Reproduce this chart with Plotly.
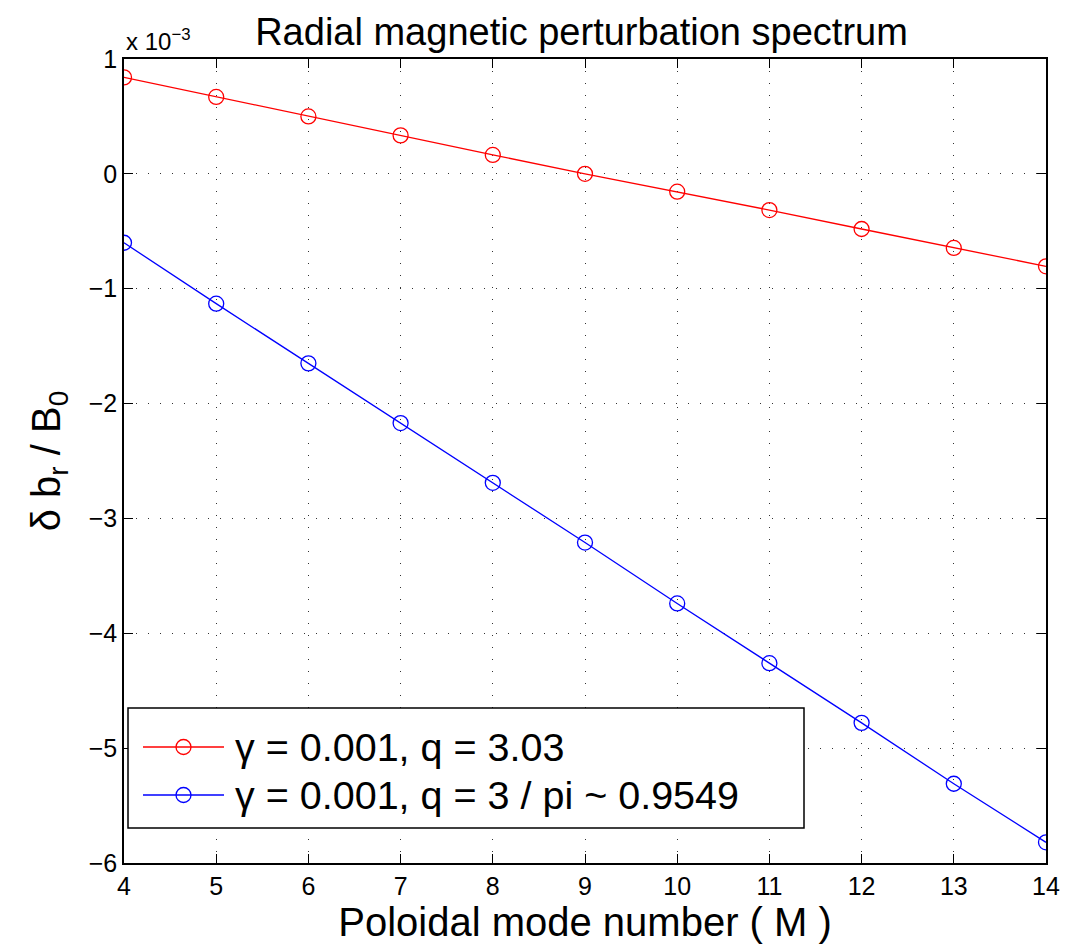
import plotly.graph_objects as go

M = [4, 5, 6, 7, 8, 9, 10, 11, 12, 13, 14]
red_vals = [0.84, 0.67, 0.50, 0.335, 0.165, 0.0, -0.155, -0.315, -0.48, -0.645, -0.805]
blue_vals = [-0.60, -1.13, -1.65, -2.17, -2.69, -3.21, -3.74, -4.26, -4.78, -5.31, -5.82]
red_name = "γ = 0.001, q = 3.03"
blue_name = "γ = 0.001, q = 3 / pi ~ 0.9549"
x_ticks = list(range(4, 15))
y_ticks = [1, 0, -1, -2, -3, -4, -5, -6]
y_ticklabels = ["1", "0", "\u22121", "\u22122", "\u22123", "\u22124", "\u22125", "\u22126"]

FONT = "Liberation Sans, Arial, Helvetica, sans-serif"
# page body has an 8px margin; compensate so the plot area lands where the reference has it
OFF = 8
W, H = 1072, 944
L, R, T, B = 124, 1046, 59, 863  # target plot-area edges on screen
PW, PH = R - L, B - T


def px(x):
    return (x - L) / PW


def py(y):
    return (B - y) / PH


fig = go.Figure()
series = [(red_vals, red_name, "#ff0000"), (blue_vals, blue_name, "#0000ff")]
for vals, name, col in series:
    fig.add_trace(go.Scatter(x=M, y=vals, mode="lines+markers", name=name, showlegend=False,
                             line=dict(color=col, width=1.3),
                             marker=dict(symbol="circle-open", size=15, color=col, line=dict(width=1.3))))

axis_common = dict(showline=True, linecolor="black", linewidth=1.5, mirror="ticks",
                   ticks="inside", ticklen=9, tickcolor="black", tickwidth=1.2,
                   showgrid=True, gridcolor="#333333", griddash="1px,11px", gridwidth=1.2,
                   zeroline=False, tickfont=dict(size=25, color="black", family=FONT))

fig.update_xaxes(range=[4, 14], tickvals=x_ticks, **axis_common,
                 title=dict(text="Poloidal mode number ( M )", font=dict(size=40, color="black", family=FONT), standoff=4))
fig.update_yaxes(range=[-6, 1], tickvals=y_ticks, ticktext=y_ticklabels, **axis_common,
                 title=dict(text="δ b<sub>r</sub> / B<sub>0</sub>", font=dict(size=40, color="black", family=FONT), standoff=16))

# manual legend (MATLAB style: long line segment with marker in the middle)
shapes = [dict(type="rect", xref="paper", yref="paper", x0=px(128), x1=px(804), y0=py(828), y1=py(708),
               line=dict(color="black", width=1.5), fillcolor="white", layer="above")]
annotations = []
rows_y = [747, 795]
for (vals, name, col), ry in zip(series, rows_y):
    shapes.append(dict(type="line", xref="paper", yref="paper", x0=px(143), x1=px(224), y0=py(ry), y1=py(ry),
                       line=dict(color=col, width=1.3), layer="above"))
    shapes.append(dict(type="circle", xref="paper", yref="paper", xsizemode="pixel", ysizemode="pixel",
                       xanchor=px(183.5), yanchor=py(ry), x0=-7.5, x1=7.5, y0=-7.5, y1=7.5,
                       line=dict(color=col, width=1.3), fillcolor="rgba(0,0,0,0)", layer="above"))
    annotations.append(dict(text=name, xref="paper", yref="paper", x=px(233), y=py(ry), xanchor="left",
                            yanchor="middle", showarrow=False, font=dict(size=39.5, color="black", family=FONT)))

annotations.append(dict(text="x 10<sup>\u22123</sup>", xref="paper", yref="paper", x=0.0, y=1.0,
                        xanchor="left", yanchor="bottom", yshift=2, showarrow=False,
                        font=dict(size=24, color="black", family=FONT)))

fig.update_layout(
    width=W, height=H,
    margin=dict(l=L - OFF, r=W - R + OFF, t=T - OFF, b=H - B + OFF),
    paper_bgcolor="white", plot_bgcolor="white",
    font=dict(family=FONT, color="black"),
    title=dict(text="Radial magnetic perturbation spectrum", x=0.535, xanchor="center",
               y=1 - (32 - OFF) / H, yanchor="middle", font=dict(size=38, color="black", family=FONT)),
    showlegend=False,
    shapes=shapes,
    annotations=annotations,
)

fig.write_html("out.html")
